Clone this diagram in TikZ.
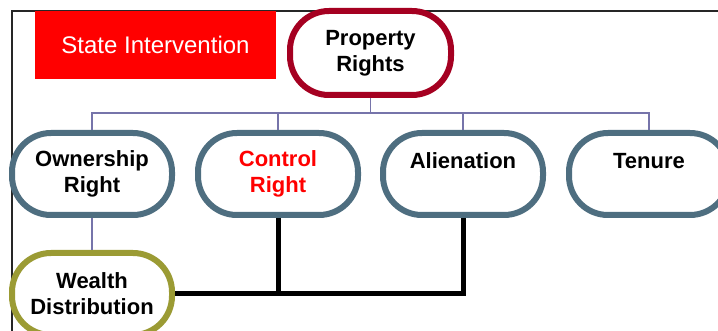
\documentclass[tikz,border=0pt]{standalone}
\usepackage{fontspec}
\setmainfont{Liberation Sans}
\definecolor{prborder}{RGB}{165,0,33}
\definecolor{kidborder}{RGB}{78,110,128}
\definecolor{wdborder}{RGB}{155,155,52}
\definecolor{busline}{RGB}{118,116,170}
\definecolor{hotred}{RGB}{255,0,0}
\tikzset{
  rightbox/.style={draw=kidborder, line width=6pt, fill=white, rounded corners=39pt,
    minimum width=160pt, minimum height=82pt, inner sep=0pt, align=center,
    font=\bfseries\fontsize{22}{26}\selectfont},
  topbox/.style={rightbox, draw=prborder, minimum width=161pt, minimum height=84pt},
  wealthbox/.style={rightbox, draw=wdborder},
  tagbox/.style={fill=hotred, text=white, minimum width=241pt, minimum height=68pt,
    inner sep=0pt, font=\fontsize{24}{28}\selectfont},
  bus/.style={draw=busline, line width=1.3pt},
  heavy/.style={draw=black, line width=5pt, line join=miter},
}
\begin{document}
\begin{tikzpicture}[x=1pt, y=-1pt]
  \useasboundingbox (0,0) rectangle (718,331);
  \clip (0,0) rectangle (718,331);
  \fill[white] (0,0) rectangle (718,331);

  % outer frame
  \draw[line width=1.5pt, black!85] (12,340) -- (12,11) -- (730,11);

  % label box
  \node[tagbox] (tag) at (155.5,45) {State Intervention};

  % hierarchy
  \node[topbox] (pr) at (370.5,53) {Property\\Rights};
  \node[rightbox] (ow) at (92,174) {Ownership\\Right};
  \node[rightbox, text=hotred] (ct) at (278,174) {Control\\Right};
  \node[rightbox] (al) at (463,174) {Alienation\\\mbox{}};
  \node[rightbox] (tn) at (649,174) {Tenure\\\mbox{}};
  \node[wealthbox] (wd) at (92,294) {Wealth\\Distribution};

  % thin tree connectors
  \coordinate (hub) at (370.5,113);
  \draw[bus] (pr.south) -- (hub);
  \draw[bus] (hub) -| (ow.north);
  \draw[bus] (hub) -| (ct.north);
  \draw[bus] (hub) -| (al.north);
  \draw[bus] (hub) -| (tn.north);
  \draw[bus] (ow.south) -- (wd.north);

  % heavy links to wealth distribution
  \draw[heavy] (ct.south) -- (ct.south |- wd.east);
  \draw[heavy] (wd.east) -| (al.south);
\end{tikzpicture}
\end{document}
